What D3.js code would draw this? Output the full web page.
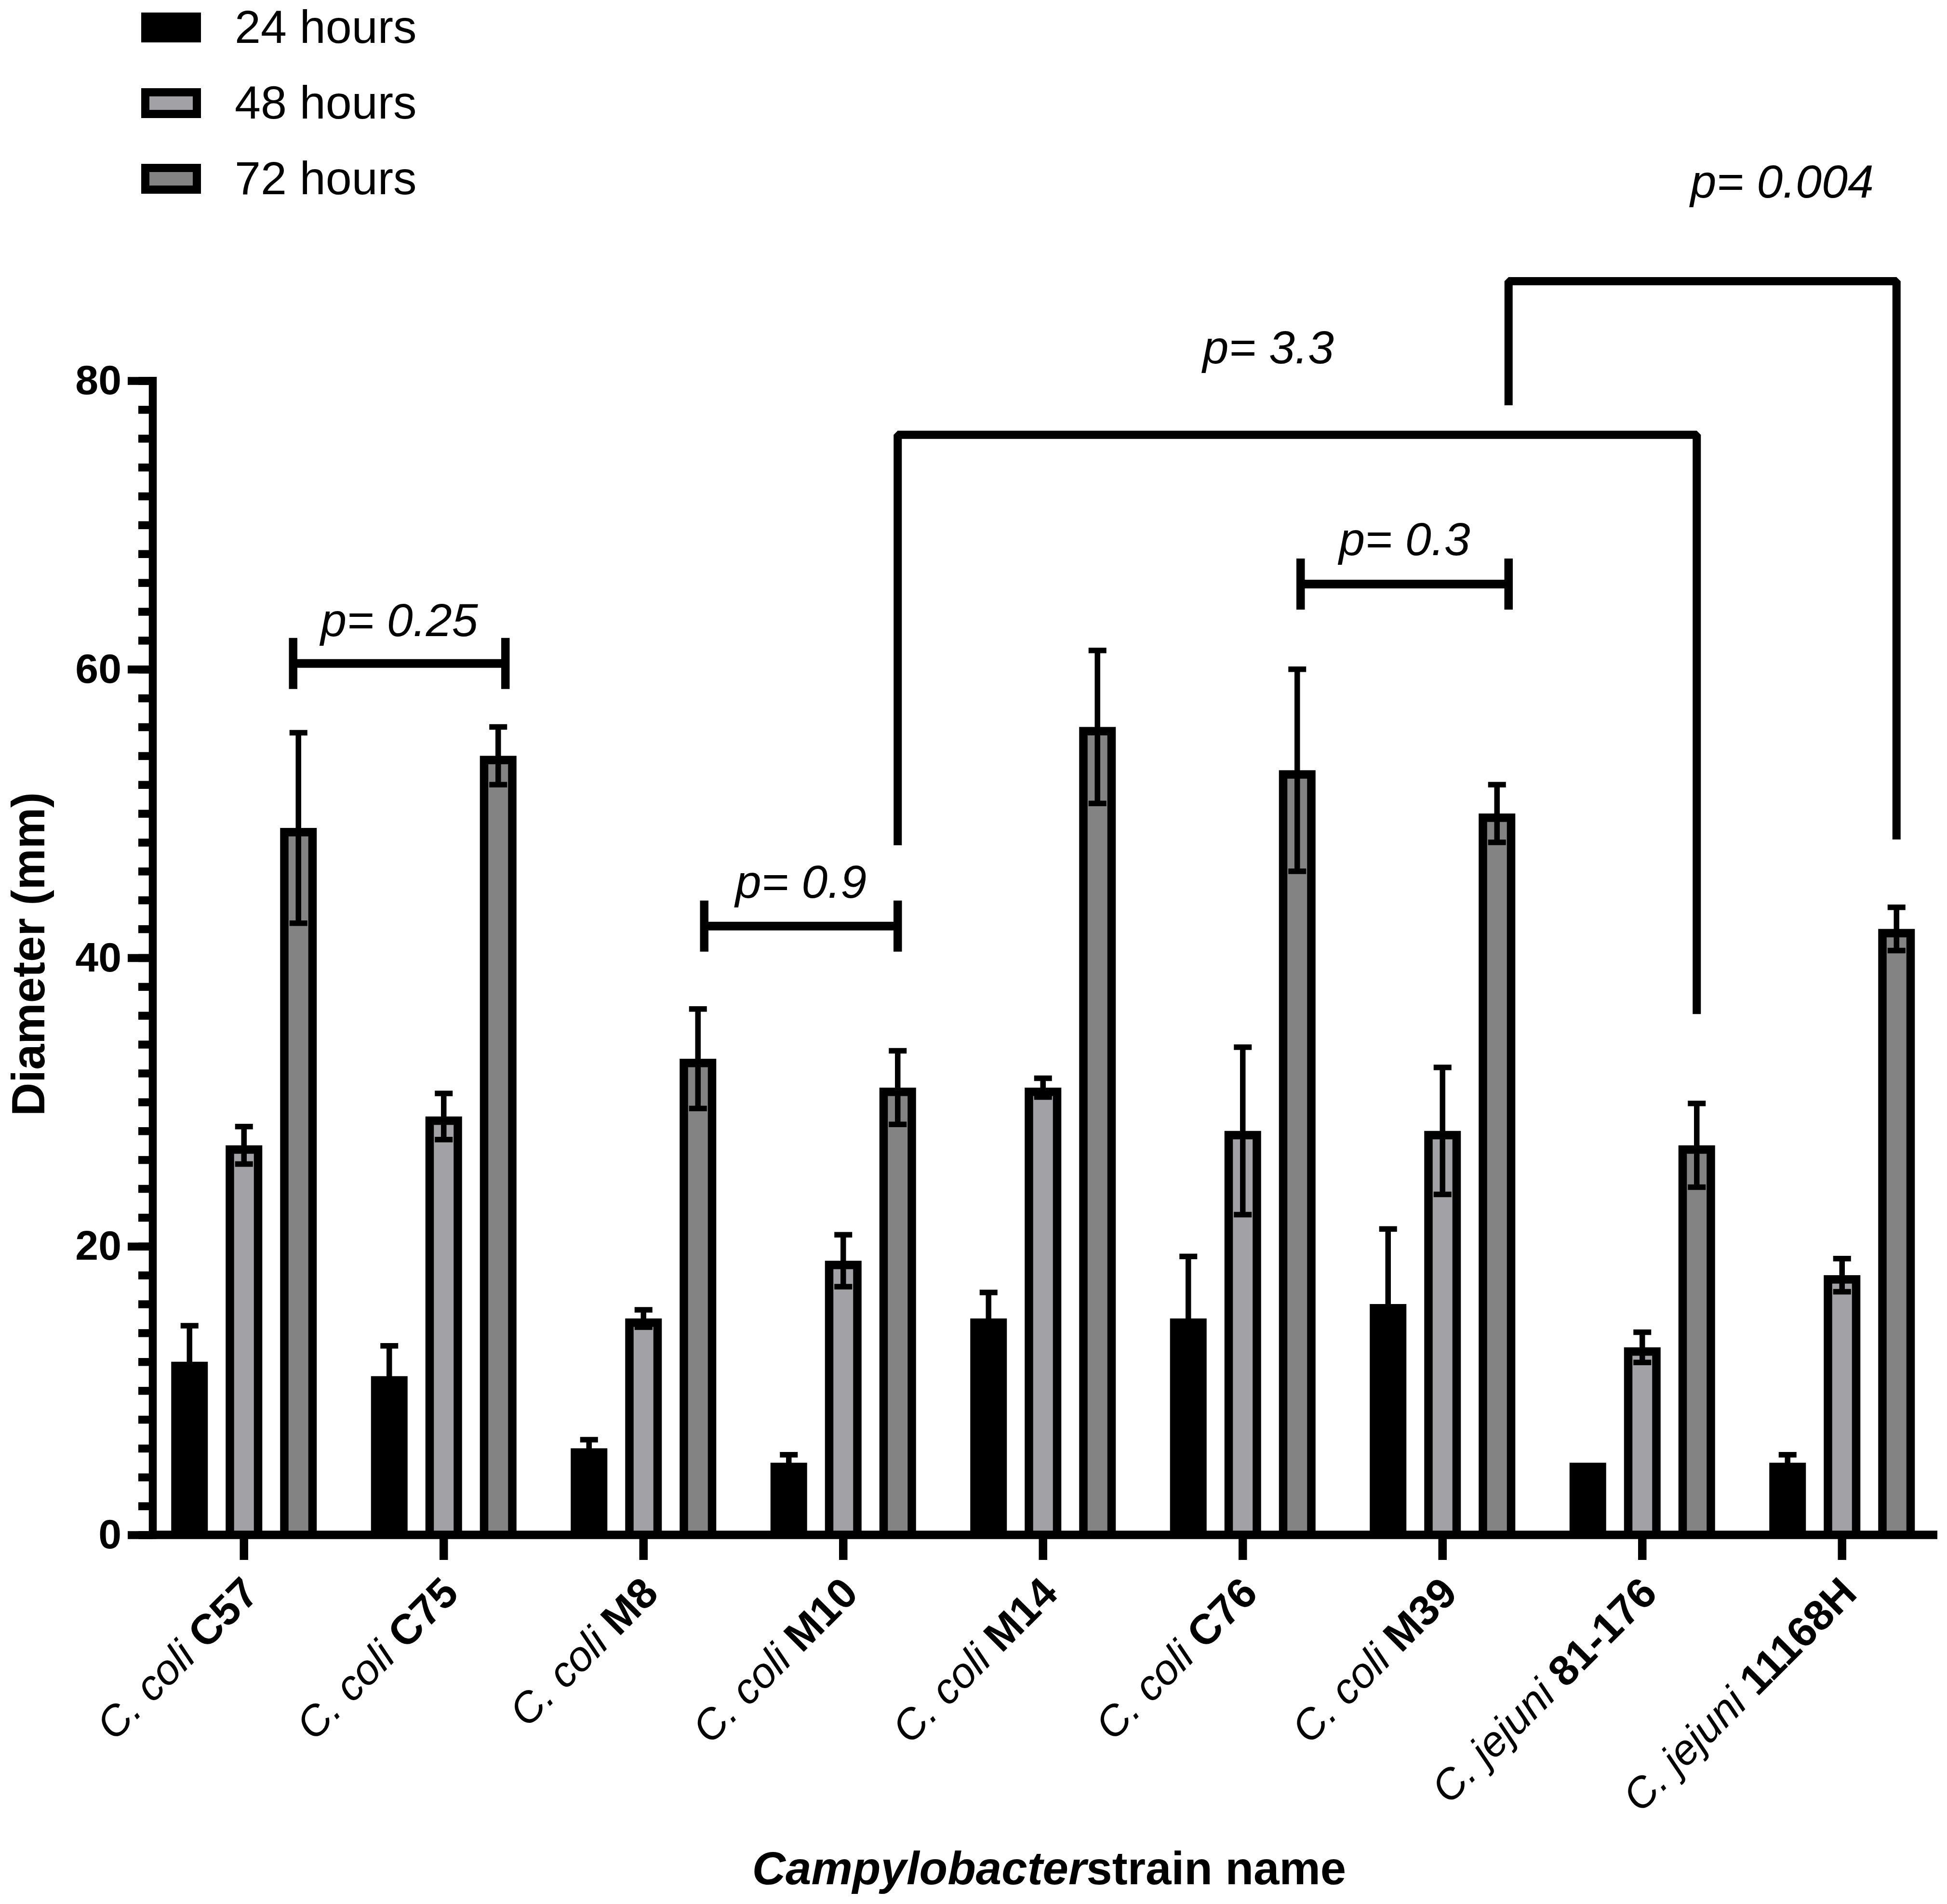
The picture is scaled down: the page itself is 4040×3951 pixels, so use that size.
<!DOCTYPE html>
<html>
<head>
<meta charset="utf-8">
<script src="https://cdn.jsdelivr.net/npm/d3@7"></script>
<style>
  body { margin: 0; background: #fff; }
  svg { display: block; }
  text { font-family: "Liberation Sans", Arial, Helvetica, sans-serif; fill: #000; }
</style>
</head>
<body>
<svg id="chart" width="4040" height="3951"></svg>
<script>
// ---- data ----
var species = ["C. coli", "C. coli", "C. coli", "C. coli", "C. coli", "C. coli", "C. coli", "C. jejuni", "C. jejuni"];
var strains = ["C57", "C75", "M8", "M10", "M14", "C76", "M39", "81-176", "11168H"];
var seriesNames = ["24 hours", "48 hours", "72 hours"];

var mean24 = [12, 11, 6, 5, 15, 15, 16, 5, 5];
var sd24   = [2.5, 2.1, 0.6, 0.55, 1.8, 4.3, 5.2, 0, 0.55];
var mean48 = [27, 29, 15, 19, 31, 28, 28, 13, 18];
var sd48   = [1.3, 1.6, 0.6, 1.8, 0.65, 5.8, 4.4, 1.05, 1.15];
var mean72 = [49, 54, 33, 31, 56, 53, 50, 27, 42];
var sd72   = [6.6, 2.0, 3.45, 2.55, 5.3, 7.0, 2.0, 2.9, 1.5];

var yMajorTicks = [0, 20, 40, 60, 80];
var yMinorStep = 2;

// comparisons: label, from strain, to strain, level (mm), left leg end, right leg end
var bracketLabels = ["p= 0.25", "p= 0.9", "p= 0.3", "p= 3.3", "p= 0.004"];
var bracketFrom   = ["C57", "M8", "C76", "M10", "M39"];
var bracketTo     = ["C75", "M10", "M39", "81-176", "11168H"];
var bracketLevel  = [60.4, 42.2, 65.9, 76.25, 86.9];
var bracketLegL   = [null, null, null, 47.8, 78.3];
var bracketLegR   = [null, null, null, 36.1, 48.2];

// ---- layout ----
var svg = d3.select("#chart");
svg.append("rect").attr("width", 4040).attr("height", 3951).attr("fill", "#fff");

var fills = {"24 hours": "#000000", "48 hours": "#a2a2a6", "72 hours": "#838383"};
var means = {"24 hours": mean24, "48 hours": mean48, "72 hours": mean72};
var sds = {"24 hours": sd24, "48 hours": sd48, "72 hours": sd72};

var x = d3.scaleBand().domain(strains).range([299, 4029.5]);
var xs = d3.scalePoint().domain(seriesNames).range([-113, 113]);
var y = d3.scaleLinear().domain([0, 80]).range([3185, 790]);
var cx = function(s) { return x(s) + x.bandwidth() / 2; };

var barW = 76, border = 17.5, lw = 16.5;

// bars
seriesNames.forEach(function(ser) {
  var g = svg.append("g").attr("class", "series");
  strains.forEach(function(s, i) {
    var v = means[ser][i];
    var c = cx(s) + xs(ser);
    g.append("rect")
      .attr("x", c - barW / 2).attr("width", barW)
      .attr("y", y(v)).attr("height", y(0) - y(v))
      .attr("fill", "#000");
    if (ser !== "24 hours") {
      g.append("rect")
        .attr("x", c - barW / 2 + border).attr("width", barW - 2 * border)
        .attr("y", y(v) + border).attr("height", y(0) - y(v) - border)
        .attr("fill", fills[ser]);
    }
  });
});

// error bars (mean ± SD)
seriesNames.forEach(function(ser) {
  var g = svg.append("g").attr("class", "err").attr("stroke", "#000").attr("stroke-width", 11.5);
  strains.forEach(function(s, i) {
    var v = means[ser][i], e = sds[ser][i];
    if (!e) return;
    var c = cx(s) + xs(ser);
    g.append("line").attr("x1", c).attr("x2", c).attr("y1", y(v + e)).attr("y2", y(v - e));
    [v + e, v - e].forEach(function(t) {
      g.append("line").attr("x1", c - 18.5).attr("x2", c + 18.5).attr("y1", y(t)).attr("y2", y(t));
    });
  });
});

// y axis
var axisX = 317;
var gyMinor = svg.append("g").attr("transform", "translate(" + axisX + ",0)")
  .call(d3.axisLeft(y).tickValues(d3.range(0, 80 + 1e-9, yMinorStep)).tickSize(30).tickFormat(""));
var gyMajor = svg.append("g").attr("transform", "translate(" + axisX + ",0)")
  .call(d3.axisLeft(y).tickValues(yMajorTicks).tickSize(52).tickPadding(13).tickFormat(d3.format("d")));
[gyMinor, gyMajor].forEach(function(g) {
  g.select(".domain").remove();
  g.selectAll(".tick line").attr("stroke", "#000").attr("stroke-width", lw);
});
gyMajor.selectAll(".tick text")
  .attr("font-size", 86).attr("font-weight", "bold")
  .attr("font-family", "Liberation Sans, Arial, sans-serif").attr("fill", "#000");
svg.append("line").attr("x1", axisX).attr("x2", axisX)
  .attr("y1", y(80) - 8).attr("y2", y(0) + 8.5)
  .attr("stroke", "#000").attr("stroke-width", lw);

// x axis
var gx = svg.append("g").attr("transform", "translate(0," + y(0) + ")")
  .call(d3.axisBottom(x).tickSize(52).tickFormat(""));
gx.select(".domain").remove();
gx.selectAll(".tick line").attr("stroke", "#000").attr("stroke-width", 17.5);
svg.append("line").attr("x1", axisX - 8).attr("x2", 4020)
  .attr("y1", y(0)).attr("y2", y(0))
  .attr("stroke", "#000").attr("stroke-width", 17.5);

// x tick labels
strains.forEach(function(s, i) {
  var t = svg.append("text")
    .attr("transform", "translate(" + (cx(s) + 35) + ",3311) rotate(-45)")
    .attr("text-anchor", "end").attr("font-size", 88);
  t.append("tspan").attr("font-style", "italic").text(species[i] + " ");
  t.append("tspan").attr("font-weight", "bold").text(s);
});

// brackets
var nudgeL = [-11, 13, 7, 0, 24], nudgeR = [15, 0, 24, 0, 0];
var labelDx = [0, 0, 0, -60, 165], labelDy = [57, 59, 60, 148, 173];
var bg = svg.append("g").attr("fill", "none").attr("stroke", "#000").attr("stroke-linejoin", "bevel");
bracketLabels.forEach(function(lab, k) {
  var x1 = cx(bracketFrom[k]) + xs("72 hours") + nudgeL[k];
  var x2 = cx(bracketTo[k]) + xs("72 hours") + nudgeR[k];
  var yl = y(bracketLevel[k]);
  if (bracketLegL[k] === null) {
    bg.append("line").attr("x1", x1).attr("x2", x2).attr("y1", yl).attr("y2", yl).attr("stroke-width", 18);
    [x1, x2].forEach(function(xx) {
      bg.append("line").attr("x1", xx).attr("x2", xx).attr("y1", yl - 53).attr("y2", yl + 53).attr("stroke-width", 17.5);
    });
  } else {
    bg.append("path").attr("stroke-width", 17)
      .attr("d", "M" + x1 + "," + y(bracketLegL[k]) + "V" + yl + "H" + x2 + "V" + y(bracketLegR[k]));
  }
  svg.append("text")
    .attr("x", (x1 + x2) / 2 + labelDx[k]).attr("y", yl - labelDy[k])
    .attr("text-anchor", "middle").attr("font-size", 97).attr("font-style", "italic")
    .text(lab);
});

// legend
seriesNames.forEach(function(ser, i) {
  var cy = 57 + i * 157;
  svg.append("rect").attr("x", 293).attr("y", cy - 31).attr("width", 124).attr("height", 62).attr("fill", "#000");
  if (ser !== "24 hours") {
    svg.append("rect").attr("x", 293 + 17).attr("y", cy - 31 + 17).attr("width", 124 - 34).attr("height", 62 - 34)
      .attr("fill", fills[ser]);
  }
  svg.append("text").attr("x", 487).attr("y", cy + 32).attr("font-size", 97).text(ser);
});

// axis titles
svg.append("text")
  .attr("transform", "translate(92,1980) rotate(-90)")
  .attr("text-anchor", "middle").attr("font-size", 96).attr("font-weight", "bold")
  .text("Diameter (mm)");
var xt = svg.append("text").attr("x", 2177).attr("y", 3910)
  .attr("text-anchor", "middle").attr("font-size", 96).attr("font-weight", "bold");
xt.append("tspan").attr("font-style", "italic").text("Campylobacter");
xt.append("tspan").text("strain name");
</script>
</body>
</html>
